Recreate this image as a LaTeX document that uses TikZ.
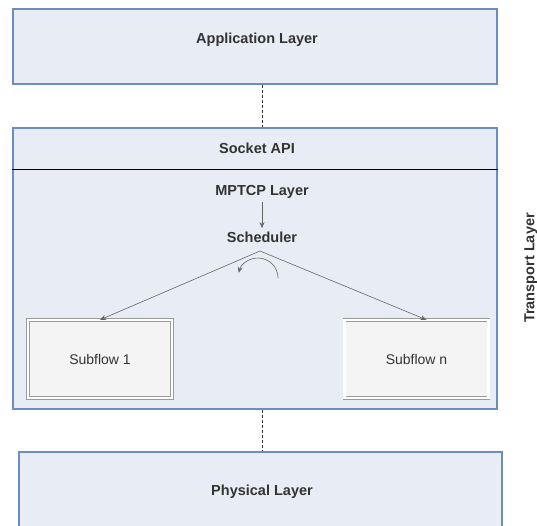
\documentclass[tikz,border=0pt]{standalone}
\usepackage{fontspec}
\setmainfont{Liberation Sans}
\usepackage{xcolor}
\usepackage{tikz}
\usetikzlibrary{arrows.meta, positioning, calc}

\definecolor{layerfill}{HTML}{E8ECF4}
\definecolor{layerdraw}{HTML}{6C8EBF}
\definecolor{flowdraw}{HTML}{9A9A9A}
\definecolor{flowfill}{HTML}{F4F4F4}
\definecolor{textgray}{HTML}{333333}

\begin{document}
\begin{tikzpicture}[
    x=1pt, y=-1pt,
    layer/.style={rectangle, draw=layerdraw, fill=layerfill, line width=1.2pt, inner sep=0pt},
    title/.style={font=\bfseries\fontsize{14.5}{16}\selectfont, text=textgray},
    subflow/.style={rectangle, draw=flowdraw, double=white, double distance=2.5pt, fill=flowfill, minimum width=144, minimum height=78, font=\fontsize{14}{16}\selectfont, text=textgray},
    arrow/.style={-{Stealth[length=6pt, width=5pt]}, draw=gray!80!black, semithick},
    link/.style={densely dashed, draw=black!80, thin}
]
\clip (0,0) rectangle (537,525);

% Layers
\node[layer, minimum width=484, minimum height=75] (app) at (255,46.5) {};
\node[title] (applabel) at (257,40) {Application Layer};
\node[layer, minimum width=484, minimum height=281] (transport) at (255,268.5) {};
\node[layer, minimum width=483, minimum height=90] (phys) at (260.5,497) {};
\node[title] (physlabel) at (262,492) {Physical Layer};

% Transport internals
\node[title] (socket) at (257,148) {Socket API};
\draw[black, thin] (transport.west |- 0,169) -- (transport.east |- 0,169);
\node[title] (mptcp) at (262,192) {MPTCP Layer};
\node[title] (sched) at (262,237) {Scheduler};
\coordinate (apex) at (260,251);
\node[subflow] (sub1) at (100,359) {Subflow 1};
\node[subflow] (subn) at (416.5,359) {Subflow n};
\node[title, rotate=90] (translabel) at (531,268) {Transport Layer};

% Arrows
\draw[arrow] (mptcp) -- (sched);
\draw[arrow] (apex) -- (sub1.north);
\draw[arrow] (apex) -- ([xshift=10]subn.north);
\draw[arrow] (278,278) arc[start angle=0, end angle=-165, radius=20];

% Connectors
\draw[link] (app.south -| mptcp) -- (transport.north -| mptcp);
\draw[link] (transport.south -| mptcp) -- (phys.north -| mptcp);

\end{tikzpicture}
\end{document}
